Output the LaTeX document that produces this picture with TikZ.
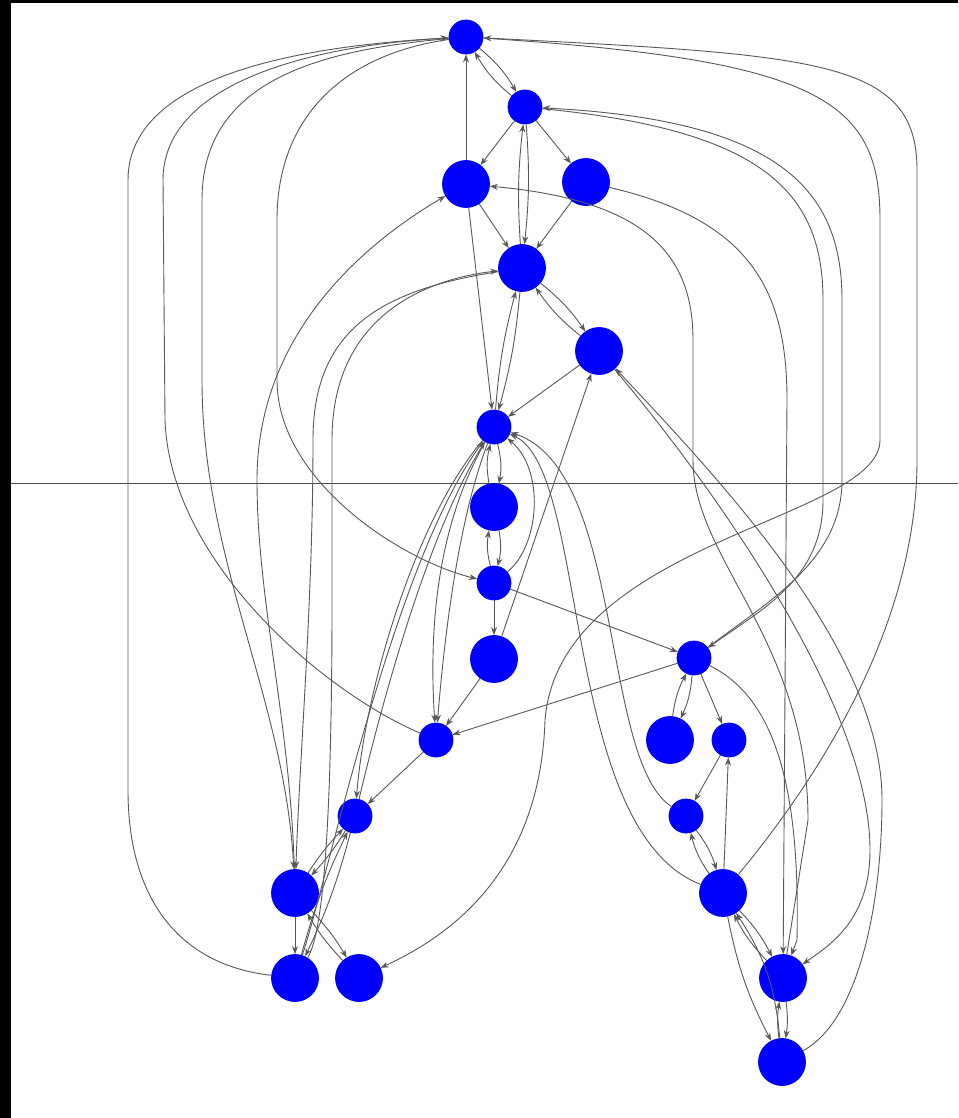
\documentclass[tikz,border=0pt]{standalone}
\usetikzlibrary{arrows.meta}
\begin{document}
\begin{tikzpicture}[x=0.5pt,y=-0.5pt,
  smallnode/.style={circle,fill=blue,draw=blue,inner sep=0pt,minimum size=17pt},
  bignode/.style={circle,fill=blue,draw=blue,inner sep=0pt,minimum size=23.5pt},
  conn/.style={draw=black!65,line width=0.45pt,-{Stealth[length=4pt,width=3pt]}}]
\useasboundingbox (0,0) rectangle (958,1118);
\fill[white] (0,0) rectangle (958,1118);
\fill[black] (0,0) rectangle (11,1118);
\fill[black] (0,0) rectangle (958,3);
\draw[black!70,line width=0.5pt] (11,483) -- (958,483);
% nodes
\node[smallnode] (A) at (466,37) {};
\node[smallnode] (B) at (525,107) {};
\node[bignode] (C) at (466,184) {};
\node[bignode] (D) at (586,182) {};
\node[bignode] (E) at (522,268) {};
\node[bignode] (F) at (599,351) {};
\node[smallnode] (G) at (494,427) {};
\node[bignode] (H) at (494,507) {};
\node[smallnode] (I) at (494,583) {};
\node[bignode] (J) at (494,659) {};
\node[smallnode] (K) at (694,658) {};
\node[bignode] (L) at (670,740) {};
\node[smallnode] (M) at (729,740) {};
\node[smallnode] (N) at (436,740) {};
\node[smallnode] (O) at (686,816) {};
\node[smallnode] (P) at (355,816) {};
\node[bignode] (Q) at (295,893) {};
\node[bignode] (R) at (723,893) {};
\node[bignode] (S) at (295,978) {};
\node[bignode] (T) at (359,978) {};
\node[bignode] (U) at (783,978) {};
\node[bignode] (V) at (782,1062) {};
% short edges
\draw[conn] (A) to[bend left=10] (B);
\draw[conn] (B) to[bend left=10] (A);
\draw[conn] (C) -- (A);
\draw[conn] (B) -- (C);
\draw[conn] (B) -- (D);
\draw[conn] (B) to[bend left=5] (E);
\draw[conn] (E) to[bend left=5] (B);
\draw[conn] (C) -- (E);
\draw[conn] (D) -- (E);
\draw[conn] (E) to[bend left=8] (F);
\draw[conn] (F) to[bend left=8] (E);
\draw[conn] (F) -- (G);
\draw[conn] (E) to[bend left=5] (G);
\draw[conn] (G) to[bend left=5] (E);
\draw[conn] (C) -- (G);
\draw[conn] (G) to[bend left=12] (H);
\draw[conn] (H) to[bend left=12] (G);
\draw[conn] (H) to[bend left=12] (I);
\draw[conn] (I) to[bend left=12] (H);
\draw[conn] (I) .. controls (540,545) and (545,470) .. (G);
\draw[conn] (I) -- (J);
\draw[conn] (J) -- (F);
\draw[conn] (I) -- (K);
\draw[conn] (J) -- (N);
\draw[conn] (K) -- (N);
\draw[conn] (N) -- (P);
\draw[conn] (K) to[bend left=10] (L);
\draw[conn] (L) to[bend left=10] (K);
\draw[conn] (K) -- (M);
\draw[conn] (M) -- (O);
\draw[conn] (R) -- (M);
\draw[conn] (O) to[bend left=10] (R);
\draw[conn] (R) to[bend left=10] (O);
\draw[conn] (R) to[bend left=8] (U);
\draw[conn] (U) to[bend left=8] (R);
\draw[conn] (R) to[bend right=8] (V);
\draw[conn] (V) to[bend right=14] (R);
\draw[conn] (U) to[bend left=8] (V);
\draw[conn] (V) to[bend left=8] (U);
\draw[conn] (P) to[bend left=5] (Q);
\draw[conn] (Q) to[bend left=5] (P);
\draw[conn] (P) to[bend left=5] (S);
\draw[conn] (S) to[bend left=5] (P);
\draw[conn] (Q) -- (S);
\draw[conn] (Q) to[bend left=6] (T);
\draw[conn] (T) to[bend left=6] (Q);
% middle curves
\draw[conn] (K) .. controls (780,700) and (800,800) .. (797,940) -- (U);
\draw[conn] (O) .. controls (600,760) and (625,470) .. (G);
\draw[conn] (R) .. controls (560,830) and (590,470) .. (G);
\draw[conn] (G) .. controls (440,520) and (428,620) .. (N);
\draw[conn] (G) .. controls (458,520) and (444,640) .. (N);
\draw[conn] (G) .. controls (415,520) and (365,690) .. (P);
\draw[conn] (P) .. controls (385,690) and (430,530) .. (G);
\draw[conn] (S) .. controls (330,870) and (395,560) .. (G);
% right big curves
\draw[conn] (A) .. controls (820,60) and (880,100) .. (880,220) -- (880,440)
  .. controls (880,520) and (560,540) .. (545,720) .. controls (540,880) and (440,940) .. (T);
\draw[conn] (R) .. controls (800,800) and (917,640) .. (917,460) -- (917,170)
  .. controls (917,60) and (820,55) .. (A);
\draw[conn] (B) .. controls (760,130) and (823,190) .. (823,300) -- (823,500)
  .. controls (823,580) and (760,610) .. (K);
\draw[conn] (K) .. controls (770,600) and (842,560) .. (842,480) -- (842,300)
  .. controls (842,190) and (780,120) .. (B);
\draw[conn] (F) .. controls (700,470) and (870,700) .. (870,850)
  .. controls (870,920) and (830,945) .. (U);
\draw[conn] (V) .. controls (860,1020) and (882,900) .. (882,800)
  .. controls (882,650) and (720,480) .. (F);
\draw[conn] (D) .. controls (750,220) and (787,290) .. (787,400) -- (U);
\draw[conn] (U) -- (808,820) .. controls (808,640) and (693,560) .. (693,460) -- (693,340)
  .. controls (693,250) and (640,200) .. (C);
% left big curves
\draw[conn] (S) .. controls (180,965) and (128,900) .. (128,790) -- (128,180)
  .. controls (128,70) and (320,45) .. (A);
\draw[conn] (N) .. controls (320,690) and (170,560) .. (165,420) -- (163,180)
  .. controls (163,80) and (320,45) .. (A);
\draw[conn] (A) .. controls (320,50) and (202,80) .. (202,200) -- (202,380)
  .. controls (202,560) and (285,700) .. (Q);
\draw[conn] (A) .. controls (340,55) and (277,120) .. (277,220) -- (277,380)
  .. controls (277,480) and (400,560) .. (I);
\draw[conn] (Q) .. controls (290,720) and (257,600) .. (257,480)
  .. controls (257,330) and (370,240) .. (C);
\draw[conn] (E) .. controls (380,290) and (313,330) .. (313,440)
  .. controls (313,600) and (300,750) .. (Q);
\draw[conn] (S) .. controls (325,930) and (332,800) .. (332,600) -- (332,440)
  .. controls (332,320) and (420,280) .. (E);
\end{tikzpicture}
\end{document}
